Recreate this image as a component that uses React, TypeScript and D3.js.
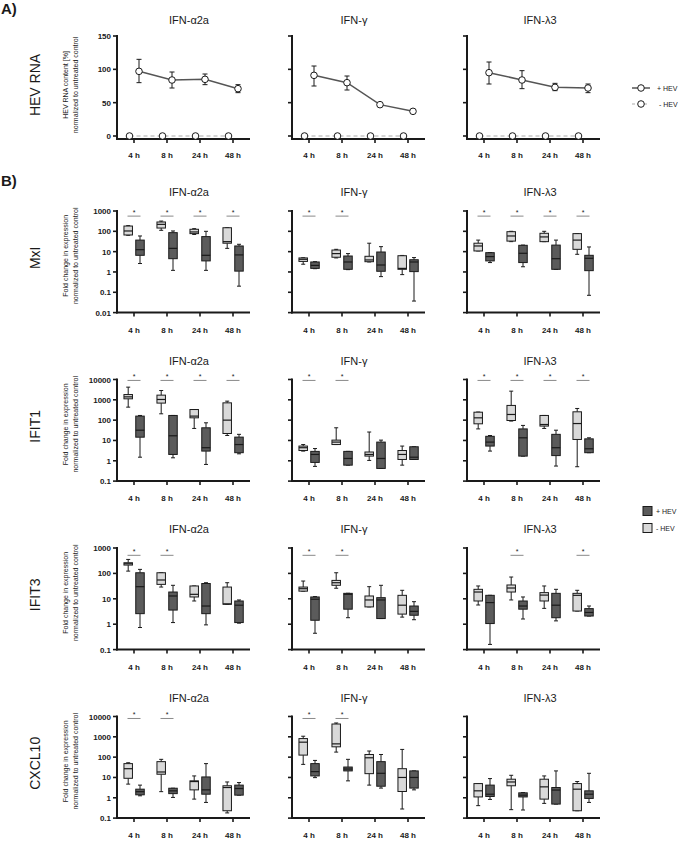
import React from 'react';
import * as d3 from 'd3';

const FONT = "'Liberation Sans', Arial, Helvetica, sans-serif";

const times = ['4 h', '8 h', '24 h', '48 h'];
const treatments = ['IFN-α2a', 'IFN-γ', 'IFN-λ3'];
const genes = ['MxI', 'IFIT1', 'IFIT3', 'CXCL10'];

// Panel A: HEV RNA content [%]
const hevTicks = [0, 50, 100, 150];
const hevPosMean = [[97, 84, 85, 71], [91, 80, 47, 37], [95, 84, 73, 72]];
const hevPosLow = [[80, 72, 77, 65], [75, 69, 47, 37], [78, 71, 68, 65]];
const hevPosHigh = [[115, 96, 93, 77], [105, 90, 47, 37], [111, 98, 79, 78]];
const hevNegMean = [[0, 0, 0, 0], [0, 0, 0, 0], [0, 0, 0, 0]];

// Panel B: box stats [min, q1, median, q3, max]; per treatment, per time
const mxiNeg = [
  [[64, 66, 104, 182, 190], [112, 145, 220, 288, 320], [70, 77, 93, 126, 135], [14.5, 26, 31, 150, 150]],
  [[2.4, 3.3, 4.2, 4.9, 5], [4.9, 5.3, 8, 12, 13], [3.1, 3.2, 3.9, 5.9, 26], [0.74, 1.35, 1.5, 6.3, 6.5]],
  [[10.8, 10.8, 19, 26, 37], [31, 33, 59, 96, 100], [31, 31, 53, 80, 100], [7.4, 13, 37, 77, 77]],
];
const mxiPos = [
  [[2.6, 6.6, 12.5, 37, 59], [1.2, 4.5, 14.5, 86, 104], [1.2, 3.5, 6.6, 55, 100], [0.2, 1.1, 6.9, 19, 23]],
  [[1.45, 1.5, 2.1, 3.1, 3.2], [1.3, 1.35, 3.1, 6.1, 8], [0.59, 1.08, 2.2, 9.6, 17.6], [0.037, 1.04, 3.1, 4.0, 5.1]],
  [[2.9, 3.5, 5.7, 8.9, 9], [1.8, 2.9, 8.3, 20.5, 21], [1.35, 1.35, 4.5, 21, 37], [0.071, 1.16, 4.7, 6.6, 17]],
];
const ifit1Neg = [
  [[436, 1120, 1400, 1820, 4200], [205, 690, 1040, 1700, 2870], [39, 130, 158, 333, 333], [17.6, 22, 100, 710, 860]],
  [[3, 3.2, 4.4, 5.3, 6.3], [6.3, 6.3, 8.3, 10.4, 42], [1.04, 1.7, 2.05, 2.7, 26], [0.61, 1.16, 2.05, 3.2, 5.3]],
  [[37, 66, 130, 246, 250], [90, 96, 190, 530, 2670], [39, 51, 61, 170, 170], [0.51, 11.2, 68, 257, 375]],
];
const ifit1Pos = [
  [[1.5, 14.5, 32, 158, 170], [1.4, 2.05, 17, 170, 170], [0.66, 3, 4.4, 42, 74], [2.2, 2.5, 6.3, 14.6, 20]],
  [[0.53, 0.83, 2.05, 2.9, 4.0], [0.61, 0.61, 1.3, 2.9, 2.9], [0.42, 0.42, 1.3, 8.3, 10.4], [1.16, 1.16, 1.5, 4.9, 4.9]],
  [[3, 5.3, 8.3, 16, 17.5], [1.7, 1.7, 13.5, 37, 55], [0.55, 1.8, 4.4, 20, 32], [2.5, 2.5, 3.9, 12, 13.5]],
];
const ifit3Neg = [
  [[123, 213, 240, 263, 355], [29, 37, 55, 106, 106], [8.2, 11.8, 15, 32, 32], [6.1, 6.1, 6.3, 29, 43]],
  [[20, 20, 25, 29, 50], [26, 34, 43, 53, 106], [4.8, 4.8, 9, 12.9, 30], [1.9, 2.5, 5.6, 13.7, 21.6]],
  [[5.7, 8.2, 18.5, 23.6, 32], [9, 18.5, 26.6, 35, 72], [4.2, 8.2, 14, 17.5, 32], [3.3, 3.3, 13.7, 16.4, 21.6]],
];
const ifit3Pos = [
  [[0.74, 2.6, 30, 106, 144], [1.16, 3.6, 12.9, 18.5, 34], [0.94, 2.6, 5.2, 40, 43], [1.1, 1.16, 5.6, 8.2, 9]],
  [[0.44, 1.43, 9.6, 11.8, 12.2], [1.8, 3.9, 15, 16.4, 16.5], [1.67, 1.67, 9, 11.1, 34], [1.5, 2.25, 3.2, 5.2, 7.7]],
  [[0.16, 1.06, 7.1, 13.7, 13.7], [1.6, 3.9, 5.2, 8.2, 11.8], [1.35, 1.8, 5.6, 16.4, 23.6], [2.1, 2.1, 2.9, 4.1, 5.2]],
];
const cxcl10Neg = [
  [[4.7, 9.1, 27, 48, 53], [2.0, 14.4, 18.6, 60, 78], [0.86, 2.45, 6.3, 6.8, 11.9], [0.18, 0.23, 3.2, 3.9, 6.0]],
  [[44, 126, 545, 820, 1070], [177, 322, 450, 4270, 4800], [4.2, 15.4, 93, 135, 200], [0.28, 2.04, 10, 27, 240]],
  [[0.41, 1.1, 2.2, 5, 5], [0.26, 3.9, 6, 8.2, 12.8], [0.53, 0.86, 3.45, 8.2, 11.9], [0.23, 0.23, 2.65, 5, 6.3]],
];
const cxcl10Pos = [
  [[1.25, 1.4, 2.0, 2.65, 4.2], [1.04, 1.6, 2.2, 2.95, 2.95], [0.59, 1.5, 2.45, 10.6, 48], [1.35, 1.35, 2.85, 4.2, 5.6]],
  [[9.8, 11.9, 19.4, 48, 69], [6.8, 21, 26, 32.6, 78], [3.0, 3.7, 16, 60, 135], [2.45, 3.0, 10, 21, 21]],
  [[0.83, 1.16, 1.5, 4.2, 8.8], [0.25, 1.1, 1.35, 1.75, 1.8], [0.49, 0.49, 2.4, 3.2, 21], [0.59, 0.93, 1.5, 2.2, 16]],
];

const sigMxI = [[1, 1, 1, 1], [1, 1, 0, 0], [1, 1, 1, 1]];
const sigIFIT1 = [[1, 1, 1, 1], [1, 1, 0, 0], [1, 1, 1, 1]];
const sigIFIT3 = [[1, 1, 0, 0], [1, 1, 0, 0], [0, 1, 0, 1]];
const sigCXCL10 = [[1, 1, 0, 0], [1, 1, 0, 0], [0, 0, 0, 0]];

const logDomains = [[0.01, 1000], [0.1, 10000], [0.1, 1000], [0.1, 10000]];
const logTickLabels = [
  ['1000', '100', '10', '1', '0.1', '0.01'],
  ['10000', '1000', '100', '10', '1', '0.1'],
  ['1000', '100', '10', '1', '0.1'],
  ['10000', '1000', '100', '10', '1', '0.1'],
];
const sigLevels = [560, 9000, 515, 8000];

const geneNeg = [mxiNeg, ifit1Neg, ifit3Neg, cxcl10Neg];
const genePos = [mxiPos, ifit1Pos, ifit3Pos, cxcl10Pos];
const geneSig = [sigMxI, sigIFIT1, sigIFIT3, sigCXCL10];

// layout
const axisX0 = [117, 292, 467];
const titleX = [189, 354, 540];
const ROW0_TOP = 211;
const ROW_STEP = 168.5;
const ROW_H = 101.6;
const AX = 2;
const DARK = '#5b5b5b';
const LIGHT = '#d9d9d9';
const INK = '#1a1a1a';

function xScaleFor(c: number) {
  return d3.scalePoint<string>().domain(times).range([axisX0[c] + 17, axisX0[c] + 116]);
}

function Box({ cx, w, s, y, fill }: any) {
  const [mn, q1, md, q3, mx] = s;
  return (
    <g stroke={INK} strokeWidth={1}>
      <line x1={cx} x2={cx} y1={y(mx)} y2={y(q3)} />
      <line x1={cx} x2={cx} y1={y(q1)} y2={y(mn)} />
      <line x1={cx - 2} x2={cx + 2} y1={y(mx)} y2={y(mx)} />
      <line x1={cx - 2} x2={cx + 2} y1={y(mn)} y2={y(mn)} />
      <rect x={cx - w / 2} y={y(q3)} width={w} height={Math.max(0.5, y(q1) - y(q3))} fill={fill} />
      <line x1={cx - w / 2} x2={cx + w / 2} y1={y(md)} y2={y(md)} strokeWidth={1.2} />
    </g>
  );
}

function XAxis({ c, yAxis, labelDy }: any) {
  const x = xScaleFor(c);
  return (
    <g>
      <line x1={axisX0[c] - 1} x2={axisX0[c] + 133} y1={yAxis} y2={yAxis} stroke={INK} strokeWidth={AX} />
      {times.map((t) => (
        <g key={t}>
          <line x1={x(t)} x2={x(t)} y1={yAxis} y2={yAxis + 4} stroke={INK} strokeWidth={1.6} />
          <text x={x(t)} y={yAxis + labelDy} textAnchor="middle" fontSize={8} fontWeight="bold" fill={INK}>{t}</text>
        </g>
      ))}
    </g>
  );
}

function YAxisTitle({ cy, lines }: any) {
  return (
    <g>
      {lines.map((l: string, i: number) => (
        <text key={i} transform={`translate(${67.5 + i * 10},${cy}) rotate(-90)`} textAnchor="middle" fontSize={7} fill="#222">{l}</text>
      ))}
    </g>
  );
}

function PanelA() {
  const y = d3.scaleLinear().domain([0, 150]).range([136, 36]);
  const line = d3.line<[number, number]>().x((d) => d[0]).y((d) => d[1]);
  return (
    <g>
      <text x={1} y={14} fontSize={15} fontWeight="bold" fill={INK}>A)</text>
      <text transform={`translate(40,85) rotate(-90)`} textAnchor="middle" fontSize={14} fill={INK}>HEV RNA</text>
      <YAxisTitle cy={85} lines={['HEV RNA content [%]', 'normalized to untreated control']} />
      {treatments.map((tr, c) => {
        const x = xScaleFor(c);
        const pos: [number, number][] = times.map((t, i) => [x(t)! + 5, y(hevPosMean[c][i])]);
        const neg: [number, number][] = times.map((t, i) => [x(t)! - 4.5, y(hevNegMean[c][i])]);
        return (
          <g key={tr}>
            <text x={titleX[c]} y={24} textAnchor="middle" fontSize={11} fill={INK}>{tr}</text>
            <line x1={axisX0[c]} x2={axisX0[c]} y1={35} y2={140} stroke={INK} strokeWidth={AX} />
            {c === 0 && hevTicks.map((v) => (
              <text key={v} x={axisX0[c] - 6} y={y(v) + 3} textAnchor="end" fontSize={8} fontWeight="bold" fill={INK}>{v}</text>
            ))}
            {hevTicks.map((v) => (
              <line key={v} x1={axisX0[c] - 4} x2={axisX0[c]} y1={y(v)} y2={y(v)} stroke={INK} strokeWidth={1.6} />
            ))}
            <XAxis c={c} yAxis={139} labelDy={19} />
            <path d={line(neg)!} fill="none" stroke="#c8c8c8" strokeWidth={1.4} strokeDasharray="4,3" />
            <path d={line(pos)!} fill="none" stroke="#555" strokeWidth={1.5} />
            {times.map((t, i) => {
              const px = x(t)! + 5;
              const hi = y(hevPosHigh[c][i]);
              const lo = y(hevPosLow[c][i]);
              return hevPosHigh[c][i] !== hevPosLow[c][i] ? (
                <g key={t} stroke={INK} strokeWidth={1}>
                  <line x1={px} x2={px} y1={hi} y2={lo} />
                  <line x1={px - 2.5} x2={px + 2.5} y1={hi} y2={hi} />
                  <line x1={px - 2.5} x2={px + 2.5} y1={lo} y2={lo} />
                </g>
              ) : null;
            })}
            {neg.map((p, i) => <circle key={'n' + i} cx={p[0]} cy={p[1]} r={3.3} fill="#fff" stroke={INK} strokeWidth={1} />)}
            {pos.map((p, i) => <circle key={'p' + i} cx={p[0]} cy={p[1]} r={3.3} fill="#fff" stroke={INK} strokeWidth={1} />)}
          </g>
        );
      })}
      <g>
        <line x1={632} x2={650} y1={88} y2={88} stroke="#555" strokeWidth={1.5} />
        <circle cx={641} cy={88} r={3.3} fill="#fff" stroke={INK} />
        <text x={657} y={90.5} fontSize={7} fill={INK}>+ HEV</text>
        <line x1={632} x2={650} y1={104} y2={104} stroke="#c8c8c8" strokeWidth={1.4} strokeDasharray="3,3" />
        <circle cx={641} cy={104} r={3.3} fill="#fff" stroke={INK} />
        <text x={659} y={106.5} fontSize={7} fill={INK}>- HEV</text>
      </g>
    </g>
  );
}

function GeneRow({ g }: any) {
  const top = ROW0_TOP + ROW_STEP * g;
  const bottom = top + ROW_H;
  const y = d3.scaleLog().domain(logDomains[g]).range([bottom, top]);
  const ticks = logTickLabels[g];
  const midY = (top + bottom) / 2;
  return (
    <g>
      <text transform={`translate(40,${midY - 4}) rotate(-90)`} textAnchor="middle" fontSize={14} fill={INK}>{genes[g]}</text>
      <YAxisTitle cy={midY - 6} lines={['Fold change in expression', 'normalized to untreated control']} />
      {treatments.map((tr, c) => {
        const x = xScaleFor(c);
        return (
          <g key={tr}>
            <text x={titleX[c]} y={top - 15} textAnchor="middle" fontSize={11} fill={INK}>{tr}</text>
            <line x1={axisX0[c]} x2={axisX0[c]} y1={top - 1} y2={bottom + 1} stroke={INK} strokeWidth={AX} />
            {ticks.map((lab) => (
              <g key={lab}>
                <line x1={axisX0[c] - 4} x2={axisX0[c]} y1={y(+lab)} y2={y(+lab)} stroke={INK} strokeWidth={1.6} />
                {c === 0 && (
                  <text x={axisX0[c] - 6} y={y(+lab) + 3} textAnchor="end" fontSize={8} fontWeight="bold" fill={INK}>{lab}</text>
                )}
              </g>
            ))}
            <XAxis c={c} yAxis={bottom} labelDy={20} />
            {times.map((t, i) => (
              <g key={t}>
                <Box cx={x(t)! - 5.8} w={8.5} s={geneNeg[g][c][i]} y={y} fill={LIGHT} />
                <Box cx={x(t)! + 6} w={8.5} s={genePos[g][c][i]} y={y} fill={DARK} />
                {geneSig[g][c][i] ? (
                  <g>
                    <line x1={x(t)! - 6.5} x2={x(t)! + 6.5} y1={y(sigLevels[g])} y2={y(sigLevels[g])} stroke="#8a8a8a" strokeWidth={1} />
                    <text x={x(t)!} y={y(sigLevels[g]) - 1.5} textAnchor="middle" fontSize={7} fill={INK}>*</text>
                  </g>
                ) : null}
              </g>
            ))}
          </g>
        );
      })}
    </g>
  );
}

export default function App() {
  const legY = ROW0_TOP + ROW_STEP * 2 - 37;
  return (
    <svg width={683} height={845} viewBox="0 0 683 845" style={{ position: 'absolute', left: 0, top: 0, background: '#fff' }} fontFamily={FONT}>
      <rect width={683} height={845} fill="#fff" />
      <PanelA />
      <text x={1} y={186} fontSize={15} fontWeight="bold" fill={INK}>B)</text>
      {genes.map((gn, g) => <GeneRow key={gn} g={g} />)}
      <g>
        <rect x={643} y={legY - 4.5} width={9} height={9} fill={DARK} stroke={INK} strokeWidth={1} />
        <text x={656} y={legY + 2.5} fontSize={7} fill={INK}>+ HEV</text>
        <rect x={643} y={legY + 12.5} width={9} height={9} fill={LIGHT} stroke={INK} strokeWidth={1} />
        <text x={656} y={legY + 19.5} fontSize={7} fill={INK}>- HEV</text>
      </g>
    </svg>
  );
}
